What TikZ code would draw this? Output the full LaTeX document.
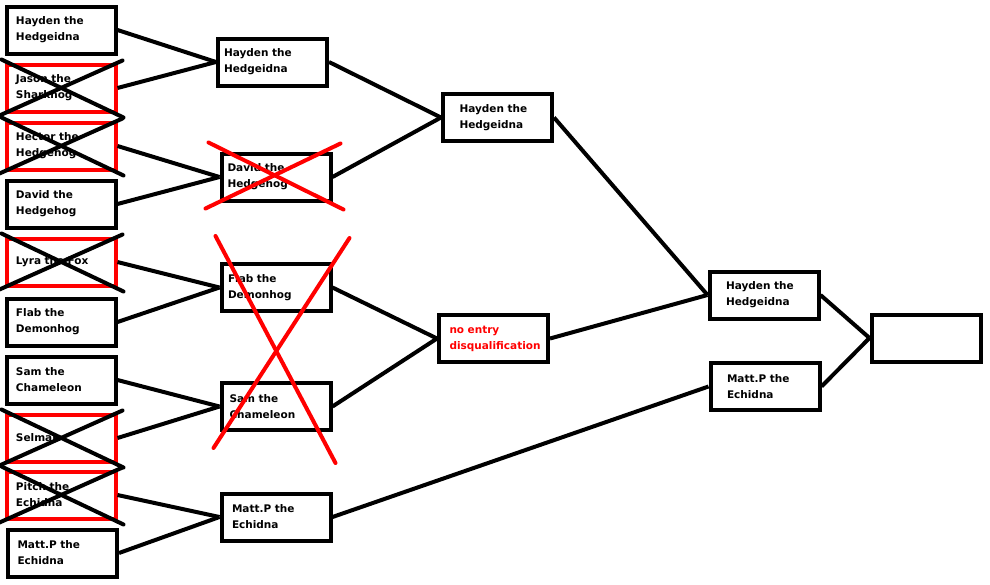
\documentclass[tikz,border=0pt]{standalone}
\usepackage{fontspec}
\setmainfont{DejaVu Sans}
\usepackage{tikz}
\usetikzlibrary{calc,positioning}

\begin{document}
\begin{tikzpicture}[x=1pt,y=-1pt,
teamnode/.style={rectangle, draw=black, line width=4pt, minimum width=109pt, minimum height=47pt, text width=90pt, align=left, inner sep=0pt, font=\fontsize{10.5}{16}\selectfont\bfseries},
outnode/.style={teamnode, draw=red},
link/.style={line width=4pt},
crossline/.style={line width=4pt, line cap=round},
]
\useasboundingbox (0,0) rectangle (990,584);
%Nodes
\node[teamnode] (hayden1) at (61,30) {Hayden the\\Hedgeidna};
\node[outnode] (jason1) [below=7pt of hayden1] {Jason the\\Sharkhog};
\node[outnode] (hector1) [below=7pt of jason1] {Hector the\\Hedgehog};
\node[teamnode] (david1) [below=7pt of hector1] {David the\\Hedgehog};
\node[outnode] (lyra1) [below=7pt of david1] {Lyra the Fox};
\node[teamnode] (flab1) [below=9pt of lyra1] {Flab the\\Demonhog};
\node[teamnode] (sam1) [below=7pt of flab1] {Sam the\\Chameleon};
\node[outnode] (selmak1) [below=7pt of sam1] {Selmak};
\node[outnode] (pitch1) [below=6pt of selmak1] {Pitch the\\Echidna};
\node[teamnode] (matt1) [below=7pt of pitch1, xshift=1.5pt] {Matt.P the\\Echidna};

\node[teamnode, text width=97pt] (hayden2) at (272.5,62) {Hayden the\\Hedgeidna};
\node[teamnode, text width=97pt] (david2) at (276,177) {David the\\Hedgehog};
\node[teamnode, text width=96pt] (flab2) at (276,287.5) {Flab the\\Demonhog};
\node[teamnode, text width=93pt] (sam2) at (276,406.5) {Sam the\\Chameleon};
\node[teamnode, text width=88pt] (matt2) at (276,517) {Matt.P the\\Echidna};

\node[teamnode, text width=76pt] (hayden3) at (497.5,117.5) {Hayden the\\Hedgeidna};
\node[teamnode, text width=88pt, text=red] (noentry3) at (493.5,338.5) {no entry\\disqualification};

\node[teamnode, text width=76pt] (hayden4) at (764,295) {Hayden the\\Hedgeidna};
\node[teamnode, text width=76pt] (matt4) at (765,386.5) {Matt.P the\\Echidna};

\node[teamnode] (final) at (926,338) {};

%Lines
\draw[link] (hayden1.east) -- (hayden2.west);
\draw[link] (jason1.east) -- (hayden2.west);
\draw[link] (hector1.east) -- (david2.west);
\draw[link] (david1.east) -- (david2.west);
\draw[link] (lyra1.east) -- (flab2.west);
\draw[link] (flab1.east) -- (flab2.west);
\draw[link] (sam1.east) -- (sam2.west);
\draw[link] (selmak1.east) -- (sam2.west);
\draw[link] (pitch1.east) -- (matt2.west);
\draw[link] (matt1.east) -- (matt2.west);

\draw[link] (hayden2.east) -- (hayden3.west);
\draw[link] (david2.east) -- (hayden3.west);
\draw[link] (flab2.east) -- (noentry3.west);
\draw[link] (sam2.east) -- (noentry3.west);
\draw[link] (matt2.east) -- (matt4.west);

\draw[link] (hayden3.east) -- (hayden4.west);
\draw[link] (noentry3.east) -- (hayden4.west);
\draw[link] (hayden4.east) -- (final.west);
\draw[link] (matt4.east) -- (final.west);

%Crosses
\foreach \n in {jason1,hector1,lyra1,selmak1,pitch1}{
  \draw[crossline] ($(\n.north west)+(-3,-3)$) -- ($(\n.south east)+(6,4)$);
  \draw[crossline] ($(\n.south west)+(-5,2)$) -- ($(\n.north east)+(5,-2)$);
}
\draw[crossline, red] ($(david2.north west)+(-11,-9)$) -- ($(david2.south east)+(11,7)$);
\draw[crossline, red] ($(david2.south west)+(-14,6)$) -- ($(david2.north east)+(8,-8)$);
\draw[crossline, red] ($(flab2.north west)+(-4,-26)$) -- ($(sam2.south east)+(3,31)$);
\draw[crossline, red] ($(flab2.north east)+(17,-24)$) -- ($(sam2.south west)+(-6,16)$);
\end{tikzpicture}
\end{document}
